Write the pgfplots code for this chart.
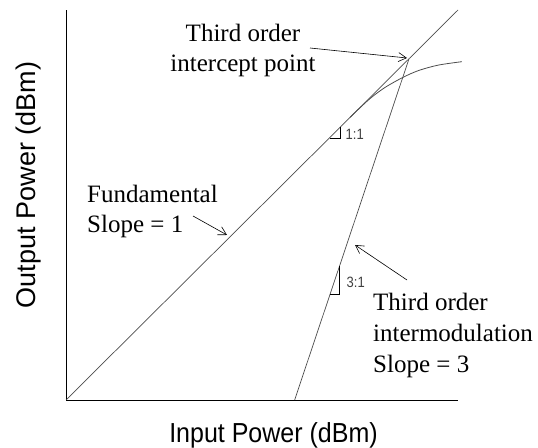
\documentclass[border=0pt]{standalone}
\usepackage{pgfplots}
\pgfplotsset{compat=1.18}
\usepackage{fontspec}
\setmainfont{Liberation Serif}
\newfontfamily\arial{Liberation Sans}
\usetikzlibrary{arrows.meta}
\begin{document}
\begin{tikzpicture}[x=1pt,y=1pt]
\path[use as bounding box] (0,0) rectangle (538,447);
\begin{axis}[
  at={(66pt,47pt)}, anchor=south west,
  scale only axis, width=392pt, height=390pt,
  xmin=0, xmax=40, ymin=0, ymax=40,
  axis lines=left, axis line style={-, black, line width=0.9pt},
  xtick=\empty, ytick=\empty,
  clip=false,
]
\addplot[gray!60!black, line width=0.7pt] coordinates {(0,0) (40,40)};
\addplot[gray!60!black, line width=0.7pt] coordinates {(23.33,0) (35,35)};
\addplot[gray!60!black, line width=0.8pt, smooth] coordinates {(29,29) (30.5,30.45) (31.5,31.3) (32.7,32.15) (34.4,33.1) (36,33.8) (38,34.35) (40.4,34.7)};
\addplot[black, line width=0.6pt] coordinates {(26.9,26.8) (27.95,26.8) (27.95,27.95)};
\addplot[black, line width=0.6pt] coordinates {(26.93,10.8) (27.9,10.8) (27.9,13.7)};
\end{axis}
% annotations
\node[anchor=base, inner sep=0pt, font=\fontsize{25}{30}\selectfont] at (243,405.3) {Third order};
\node[anchor=base, inner sep=0pt, font=\fontsize{25}{30}\selectfont] at (243,375.3) {intercept point};
\draw[-{Straight Barb[length=8pt,width=9pt]}, line width=0.6pt] (310,399) -- (407,389);
\node[anchor=base west, inner sep=0pt, font=\fontsize{25}{30}\selectfont] at (87,244) {Fundamental};
\node[anchor=base west, inner sep=0pt, font=\fontsize{25}{30}\selectfont] at (87,214) {Slope = 1};
\draw[-{Straight Barb[length=8pt,width=9pt]}, line width=0.6pt] (193,231) -- (227,212);
\node[anchor=base west, inner sep=0pt, font=\fontsize{25}{30}\selectfont] at (373,136.3) {Third order};
\node[anchor=base west, inner sep=0pt, font=\fontsize{25}{30}\selectfont] at (373,105.3) {intermodulation};
\node[anchor=base west, inner sep=0pt, font=\fontsize{25}{30}\selectfont] at (373,74) {Slope = 3};
\draw[-{Straight Barb[length=8pt,width=9pt]}, line width=0.6pt] (407,167) -- (355,202);
\node[anchor=base west, inner sep=0pt, yscale=1.15, font=\arial\fontsize{13}{15}\selectfont, text=black!75] at (345.5,307) {1:1};
\node[anchor=base west, inner sep=0pt, yscale=1.15, font=\arial\fontsize{13}{15}\selectfont, text=black!75] at (346.5,159) {3:1};
\node[anchor=base, inner sep=0pt, yscale=1.1, font=\arial\fontsize{25}{30}\selectfont] at (273.5,5) {Input Power (dBm)};
\node[inner sep=0pt, rotate=90, font=\arial\fontsize{27}{32}\selectfont] at (29,262) {Output Power (dBm)};
\end{tikzpicture}
\end{document}
